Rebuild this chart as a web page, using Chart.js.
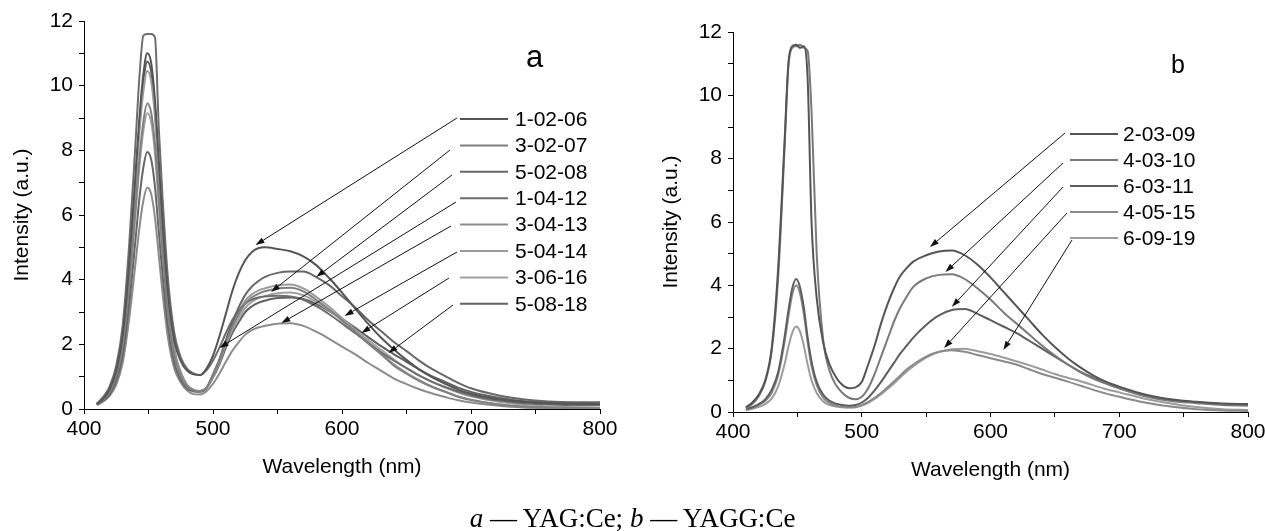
<!DOCTYPE html>
<html><head><meta charset="utf-8">
<script src="https://cdn.jsdelivr.net/npm/chart.js@4.4.1/dist/chart.umd.min.js"></script>
<style>
html,body{margin:0;padding:0;background:#fff;width:1265px;height:531px;overflow:hidden}
#ca{position:absolute;left:0;top:0}
#cb{position:absolute;left:640px;top:0}
#cap{position:absolute;left:0;width:1265px;top:505px;text-align:center;font:27px "Liberation Serif";line-height:27px;color:#000;white-space:nowrap}
</style></head><body>
<canvas id="ca" width="640" height="531"></canvas>
<canvas id="cb" width="625" height="531"></canvas>
<div id="cap"><i>a</i> — YAG:Ce; <i>b</i> — YAGG:Ce</div>
<script>
// ---------- data ----------
const wavelengths = [410,415,420,425,430,435,440,443,446,449,452,455,458,461,465,470,475,480,485,490,495,500,505,510,515,520,525,530,535,540,550,560,570,580,590,600,610,620,630,640,650,660,670,680,690,700,720,740,760,780,800];
const xTicksMin = 400, xTicksMax = 800, yTicksMin = 0, yTicksMax = 12;

// panel a (YAG:Ce)
const labelsA = ['1-02-06','3-02-07','5-02-08','1-04-12','3-04-13','5-04-14','3-06-16','5-08-18'];
const s_1_02_06 = [0.15,0.33,0.62,1.18,2.28,4.46,7.29,9.04,10.35,11.0,10.72,9.56,7.64,5.73,3.62,2.12,1.48,1.18,1.07,1.05,1.25,1.65,2.25,2.95,3.65,4.2,4.6,4.85,4.97,5.0,4.95,4.88,4.72,4.45,4.05,3.6,3.12,2.65,2.22,1.85,1.52,1.22,0.98,0.78,0.6,0.47,0.31,0.22,0.18,0.16,0.15];
const s_3_02_07 = [0.14,0.29,0.54,1.01,1.95,3.82,6.26,7.76,8.88,9.45,9.18,8.17,6.5,4.85,3.01,1.65,1.02,0.69,0.57,0.54,0.65,1.05,1.5,2.06,2.55,2.93,3.26,3.45,3.56,3.64,3.73,3.75,3.64,3.38,3.08,2.74,2.4,2.03,1.7,1.35,1.09,0.86,0.68,0.53,0.38,0.28,0.15,0.08,0.05,0.03,0.02];
const s_5_02_08 = [0.13,0.26,0.46,0.86,1.65,3.22,5.27,6.53,7.47,7.95,7.73,6.88,5.48,4.1,2.56,1.42,0.9,0.63,0.54,0.53,0.66,1.06,1.53,2.13,2.68,3.15,3.53,3.78,3.95,4.08,4.21,4.25,4.25,4.08,3.83,3.49,3.15,2.76,2.42,2.08,1.79,1.49,1.23,1.02,0.81,0.64,0.43,0.3,0.23,0.21,0.21];
const s_1_04_12 = [0.17,0.38,0.71,1.34,2.59,5.07,8.29,10.29,11.55,11.6,11.6,11.5,8.66,6.48,4.07,2.35,1.6,1.24,1.1,1.05,1.2,1.5,1.9,2.35,2.75,3.05,3.25,3.38,3.45,3.48,3.5,3.48,3.38,3.18,2.93,2.65,2.35,2.05,1.76,1.5,1.26,1.03,0.84,0.68,0.54,0.42,0.27,0.18,0.14,0.12,0.12];
const s_3_04_13 = [0.12,0.23,0.41,0.75,1.43,2.78,4.54,5.62,6.44,6.85,6.66,5.93,4.74,3.55,2.23,1.25,0.82,0.57,0.46,0.45,0.55,0.78,1.1,1.46,1.8,2.07,2.3,2.44,2.52,2.57,2.64,2.65,2.57,2.39,2.17,1.93,1.7,1.43,1.19,0.95,0.77,0.61,0.48,0.37,0.27,0.2,0.11,0.05,0.03,0.02,0.01];
const s_5_04_14 = [0.15,0.32,0.59,1.11,2.15,4.22,6.92,8.58,9.82,10.45,10.15,9.03,7.18,5.35,3.31,1.8,1.1,0.73,0.59,0.55,0.66,1.08,1.54,2.12,2.62,3.0,3.35,3.54,3.66,3.73,3.83,3.85,3.73,3.47,3.16,2.81,2.46,2.08,1.73,1.39,1.12,0.89,0.69,0.54,0.39,0.29,0.15,0.08,0.05,0.03,0.02];
const s_3_06_16 = [0.14,0.29,0.52,0.98,1.89,3.7,6.06,7.51,8.6,9.15,8.89,7.91,6.3,4.7,2.92,1.6,1.0,0.68,0.56,0.54,0.64,1.0,1.44,1.98,2.45,2.81,3.13,3.31,3.42,3.49,3.58,3.6,3.52,3.31,3.05,2.75,2.45,2.14,1.84,1.54,1.27,1.03,0.83,0.66,0.51,0.39,0.23,0.13,0.08,0.06,0.05];
const s_5_08_18 = [0.16,0.33,0.6,1.14,2.21,4.34,7.12,8.82,10.1,10.75,10.44,9.29,7.39,5.5,3.4,1.84,1.13,0.74,0.59,0.56,0.66,0.97,1.38,1.9,2.35,2.69,3.0,3.17,3.28,3.35,3.43,3.45,3.4,3.25,3.03,2.79,2.52,2.23,1.95,1.7,1.46,1.22,1.01,0.84,0.66,0.53,0.36,0.25,0.2,0.18,0.18];
const seriesA = [s_1_02_06,s_3_02_07,s_5_02_08,s_1_04_12,s_3_04_13,s_5_04_14,s_3_06_16,s_5_08_18];
// arrow tips (wavelength, intensity)
const tipsA = [[533,5.07],[545,3.62],[580,4.08],[505,1.89],[553,2.66],[602,2.88],[615,2.35],[636,1.73]];

// panel b (YAGG:Ce)
const labelsB = ['2-03-09','4-03-10','6-03-11','4-05-15','6-09-19'];
const s_2_03_09 = [0.15,0.3,0.55,1.0,2.0,4.5,8.5,11.0,11.55,11.6,11.5,11.55,10.5,6.0,3.6,2.2,1.5,1.1,0.85,0.75,0.78,0.95,1.5,2.1,2.8,3.4,3.9,4.3,4.55,4.75,4.95,5.07,5.1,4.95,4.65,4.25,3.8,3.35,2.9,2.45,2.05,1.7,1.4,1.15,0.95,0.8,0.55,0.4,0.32,0.27,0.25];
const s_4_03_10 = [0.12,0.25,0.5,0.95,1.9,4.2,8.3,10.9,11.5,11.55,11.6,11.5,11.4,9.5,5.0,2.3,1.3,0.85,0.6,0.45,0.4,0.48,0.75,1.2,1.75,2.3,2.85,3.3,3.65,3.95,4.22,4.33,4.35,4.2,3.9,3.55,3.15,2.8,2.45,2.1,1.78,1.5,1.25,1.05,0.9,0.75,0.5,0.35,0.28,0.22,0.2];
const s_6_03_11 = [0.1,0.15,0.25,0.4,0.7,1.25,2.35,3.2,3.9,4.2,3.95,3.3,2.35,1.6,0.95,0.55,0.35,0.26,0.22,0.2,0.22,0.3,0.45,0.68,0.95,1.25,1.55,1.85,2.1,2.35,2.75,3.05,3.22,3.25,3.1,2.9,2.7,2.5,2.25,2.0,1.75,1.5,1.27,1.08,0.9,0.75,0.52,0.38,0.3,0.25,0.22];
const s_4_05_15 = [0.08,0.13,0.22,0.35,0.6,1.15,2.2,3.0,3.7,4.0,3.75,3.1,2.2,1.45,0.85,0.45,0.28,0.2,0.16,0.15,0.16,0.22,0.32,0.45,0.6,0.78,0.96,1.15,1.35,1.5,1.75,1.9,1.95,1.9,1.8,1.7,1.6,1.5,1.35,1.2,1.08,0.96,0.83,0.7,0.58,0.48,0.3,0.17,0.09,0.05,0.03];
const s_6_09_19 = [0.06,0.1,0.16,0.25,0.42,0.8,1.5,2.05,2.5,2.7,2.55,2.1,1.5,1.0,0.6,0.33,0.22,0.17,0.15,0.14,0.15,0.2,0.29,0.41,0.56,0.73,0.9,1.1,1.28,1.45,1.72,1.9,1.98,2.0,1.92,1.83,1.72,1.6,1.48,1.34,1.2,1.08,0.97,0.84,0.72,0.62,0.42,0.27,0.16,0.09,0.06];
const seriesB = [s_2_03_09,s_4_03_10,s_6_03_11,s_4_05_15,s_6_09_19];
const tipsB = [[553,5.21],[565,4.42],[570,3.32],[564,2.02],[610,1.96]];

// ---------- styles / layout ----------
const colorsA = ['#555555','#808080','#676767','#6e6e6e','#8c8c8c','#9a9a9a','#a2a2a2','#606060'];
const colorsB = ['#555555','#7a7a7a','#5e5e5e','#8a8a8a','#9c9c9c'];
const FONT = '"Liberation Sans", Arial, sans-serif';

function drawArrow(ctx, sx, sy, tx, ty) {
  ctx.strokeStyle = '#111'; ctx.fillStyle = '#111'; ctx.lineWidth = 1;
  const ang = Math.atan2(ty - sy, tx - sx);
  const L = 9, Wd = 3;
  const bx = tx - L * Math.cos(ang), by = ty - L * Math.sin(ang);
  ctx.beginPath(); ctx.moveTo(sx, sy); ctx.lineTo(bx, by); ctx.stroke();
  ctx.beginPath();
  ctx.moveTo(tx, ty);
  ctx.lineTo(bx + Wd * Math.sin(ang), by - Wd * Math.cos(ang));
  ctx.lineTo(bx - Wd * Math.sin(ang), by + Wd * Math.cos(ang));
  ctx.closePath(); ctx.fill();
}

function annot(cfg) {
  return {
    id: 'annot',
    afterDatasetsDraw(chart) {
      const {ctx, scales: {x, y}} = chart;
      ctx.save();
      cfg.labels.forEach((name, i) => {
        const ry = cfg.rowY0 + i * cfg.rowStep;
        ctx.strokeStyle = cfg.colors[i]; ctx.lineWidth = 2;
        ctx.beginPath(); ctx.moveTo(cfg.lineX0, ry); ctx.lineTo(cfg.lineX1, ry); ctx.stroke();
        ctx.fillStyle = '#000'; ctx.font = '21px ' + FONT; ctx.textBaseline = 'middle'; ctx.textAlign = 'left';
        ctx.fillText(name, cfg.textX, ry + 1);
        const [sx, sy] = cfg.starts[i];
        drawArrow(ctx, sx, sy, x.getPixelForValue(cfg.tips[i][0]), y.getPixelForValue(cfg.tips[i][1]));
      });
      ctx.fillStyle = '#000'; ctx.textBaseline = 'alphabetic'; ctx.textAlign = 'left';
      ctx.font = cfg.tagFont; ctx.fillText(cfg.tag, cfg.tagX, cfg.tagY);
      ctx.restore();
    }
  };
}

function makeChart(id, series, labels, colors, lay, plugin) {
  const datasets = series.map((s, i) => ({
    label: labels[i],
    data: s.map((v, k) => ({x: wavelengths[k], y: v})),
    borderColor: colors[i], borderWidth: 2, pointRadius: 0,
    cubicInterpolationMode: 'monotone', fill: false
  }));
  return new Chart(document.getElementById(id), {
    type: 'line',
    data: {datasets},
    options: {
      responsive: false, animation: false, events: [],
      layout: {padding: lay.padding},
      plugins: {legend: {display: false}, tooltip: {enabled: false}},
      scales: {
        x: {
          type: 'linear', min: xTicksMin, max: xTicksMax,
          ticks: {stepSize: 50, autoSkip: false, maxRotation: 0, padding: 3, color: '#000',
                  font: {family: FONT, size: 21}, callback: v => (v % 100 === 0 ? v : '')},
          grid: {drawOnChartArea: false, drawTicks: true, tickLength: 5, color: '#000', lineWidth: 1},
          border: {display: true, color: '#000', width: 1},
          title: {display: true, text: 'Wavelength (nm)', color: '#000', font: {family: FONT, size: 21}, padding: {top: 0, bottom: 0}},
          afterFit: s => { s.height = 71; s.paddingLeft = 0; s.paddingRight = 0; }
        },
        y: {
          min: yTicksMin, max: yTicksMax,
          ticks: {stepSize: 1, autoSkip: false, padding: 6, color: '#000',
                  font: {family: FONT, size: 21}, callback: v => (v % 2 === 0 ? v : '')},
          grid: {drawOnChartArea: false, drawTicks: true, tickLength: 5, color: '#000', lineWidth: 1},
          border: {display: true, color: '#000', width: 1},
          title: {display: true, text: 'Intensity (a.u.)', color: '#000', font: {family: FONT, size: 21}, padding: {top: lay.ytitlePad, bottom: 0}},
          afterFit: s => { s.width = lay.yWidth; s.paddingTop = 0; s.paddingBottom = 0; }
        }
      }
    },
    plugins: [plugin]
  });
}

makeChart('ca', seriesA, labelsA, colorsA,
  {padding: {top: 21, right: 40, bottom: 51, left: 0}, yWidth: 84, ytitlePad: 10},
  annot({labels: labelsA, colors: colorsA, tips: tipsA, rowY0: 119, rowStep: 26.4,
         lineX0: 460, lineX1: 508, textX: 515,
         starts: [[457,118],[450,150],[452,175],[456,202],[451,226],[457,252],[449,278],[453,305]],
         tag: 'a', tagFont: '31px ' + FONT, tagX: 526, tagY: 67}));

makeChart('cb', seriesB, labelsB, colorsB,
  {padding: {top: 32, right: 17, bottom: 48, left: 0}, yWidth: 93, ytitlePad: 19},
  annot({labels: labelsB, colors: colorsB, tips: tipsB, rowY0: 134, rowStep: 26,
         lineX0: 430, lineX1: 478, textX: 483,
         starts: [[425,133],[423,163],[423,187],[427,213],[432,240]],
         tag: 'b', tagFont: '25px ' + FONT, tagX: 531, tagY: 73}));
</script>
</body></html>
